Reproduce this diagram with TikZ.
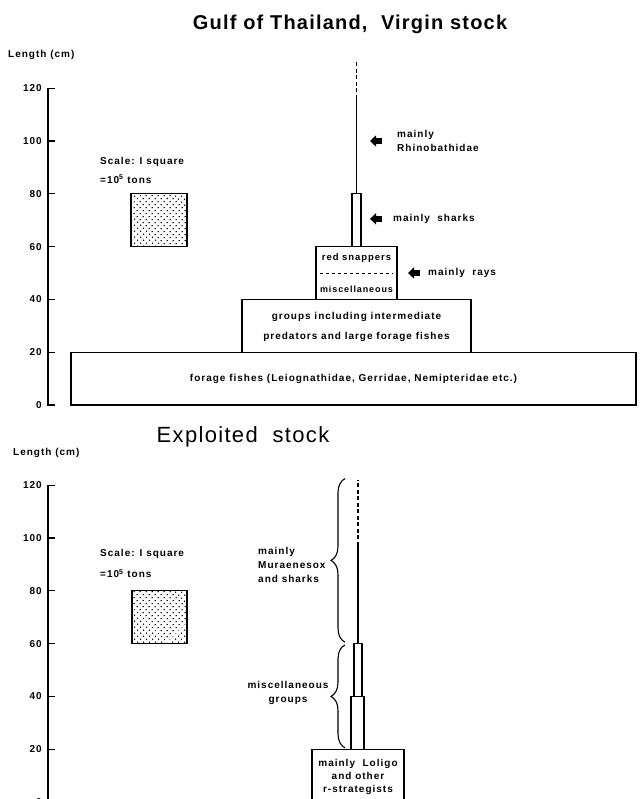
\documentclass[tikz,border=0pt]{standalone}
\usepackage{fontspec}
\setmainfont{Liberation Sans}
\newfontfamily\chartfont{Liberation Sans}[LetterSpace=10]
\newfontfamily\headfont{Liberation Sans}[LetterSpace=6]
\usetikzlibrary{arrows.meta,decorations.pathreplacing,patterns.meta}
\def\cmunit{2.64pt}
\def\axx{48}
\def\ticklen{7}
\def\labsize{10}

\begin{document}
\begin{tikzpicture}[x=1pt,y=1pt,
	lbl/.style={font=\chartfont\bfseries\fontsize{\labsize}{14}\selectfont,inner sep=0pt},
	head/.style={font=\headfont\fontsize{#1}{#1}\selectfont,inner sep=0pt},
	box/.style={draw,line width=1.2pt},
	sq/.style={draw,line width=1.4pt,pattern={Dots[distance=4pt,angle=45,radius=.8pt]}},
	stem/.style={line width=1.1pt},
	gap/.style={line width=1.1pt,dash pattern=on 4pt off 2.5pt},
	ptr/.style={-{Triangle[length=6pt,width=11pt]},line width=6pt},
	brc/.style={decorate,decoration={brace,amplitude=14pt},line width=1.1pt},
	ax/.style={line width=1.2pt}
	]
	\useasboundingbox (0,0) rectangle (639,799);
	
	\node[head=20,font=\headfont\bfseries\fontsize{20}{20}\selectfont] (virgin) at (350,775) {Gulf of Thailand,\ \ Virgin stock};
	\node[lbl,anchor=west] (vlength) at (8,744) {Length (cm)};
	
	\begin{scope}[yshift=394pt,y=\cmunit]
		\draw[ax] (\axx+\ticklen,120) -- (\axx,120) -- (\axx,0) -- (\axx+\ticklen,0);
		\foreach \t in {20,40,...,100}
			\draw[ax] (\axx,\t) -- ++(\ticklen,0);
		\foreach \t in {0,20,...,120}
			\node[lbl,anchor=east] (vt\t) at (\axx-6,\t) {\t};
		
		\node[lbl,anchor=west] (vscale) at (100,92) {Scale: I square};
		\node[lbl,anchor=west] (vtons) at (100,85.5) {=10\textsuperscript{5} tons};
		\draw[sq] (131,60) rectangle (187,80);
		
		\draw[box] (71,0) rectangle (636,20);
		\node[lbl] (vforage) at (353.5,10) {forage fishes (Leiognathidae, Gerridae, Nemipteridae etc.)};
		\draw[box] (242,20) rectangle (471,40);
		\node[lbl,align=center,font=\chartfont\bfseries\fontsize{\labsize}{20}\selectfont] (vgroups) at (356.5,29.5) {groups including intermediate\\predators and large forage fishes};
		\draw[box] (316,40) rectangle (397,60);
		\node[lbl,font=\chartfont\bfseries\fontsize{9.5}{12}\selectfont] (vsnap) at (356.5,55.5) {red snappers};
		\draw[dashed,line width=.9pt] (320,50) -- (393,50);
		\node[lbl,font=\chartfont\bfseries\fontsize{9}{12}\selectfont] (vmisc) at (356.5,44) {miscellaneous};
		\draw[box] (352,60) rectangle (361,80);
		\draw[stem] (356.5,80) -- (356.5,116);
		\draw[gap] (356.5,116) -- (356.5,130);
		
		\node[lbl,anchor=west,align=left] (vrhino) at (397,100) {mainly\\Rhinobathidae};
		\draw[ptr] ([xshift=-15pt]vrhino.west) -- ++(-12,0);
		\node[lbl,anchor=west] (vsharks) at (393,70.5) {mainly\ \ sharks};
		\draw[ptr] ([xshift=-11pt]vsharks.west) -- ++(-12,0);
		\node[lbl,anchor=west] (vrays) at (428,50) {mainly\ \ rays};
		\draw[ptr] ([xshift=-8pt]vrays.west) -- ++(-12,0);
	\end{scope}
	
	\node[head=22] (exploited) at (243,362) {Exploited\ \ stock};
	\node[lbl,anchor=west] (elength) at (13,346) {Length (cm)};
	
	\begin{scope}[yshift=-3pt,y=\cmunit]
		\draw[ax] (\axx+\ticklen,120) -- (\axx,120) -- (\axx,0) -- (\axx+\ticklen,0);
		\foreach \t in {20,40,...,100}
			\draw[ax] (\axx,\t) -- ++(\ticklen,0);
		\foreach \t in {0,20,...,120}
			\node[lbl,anchor=east] (et\t) at (\axx-6,\t) {\t};
		
		\node[lbl,anchor=west] (escale) at (100,94) {Scale: I square};
		\node[lbl,anchor=west] (etons) at (100,86.5) {=10\textsuperscript{5} tons};
		\draw[sq] (132,60) rectangle (187,80);
		
		\draw[box] (312,0) rectangle (404,20);
		\node[lbl,align=center,font=\chartfont\bfseries\fontsize{\labsize}{13}\selectfont] (eloligo) at (358,9.5) {mainly\ \ Loligo\\and other\\r-strategists};
		\draw[box] (351,20) rectangle (364,40);
		\draw[box] (354,40) rectangle (362,60);
		\draw[stem] (358,60) -- (358,97);
		\draw[gap] (358,97) -- (358,122);
		
		\draw[brc] (345,60.5) -- (345,122.5);
		\draw[brc] (345,20.5) -- (345,59.5);
		\node[lbl,anchor=west,align=left] (emuraen) at (258,89.8) {mainly\\Muraenesox\\and sharks};
		\node[lbl,align=center] (emisc) at (288,41.3) {miscellaneous\\groups};
	\end{scope}
\end{tikzpicture}
\end{document}
